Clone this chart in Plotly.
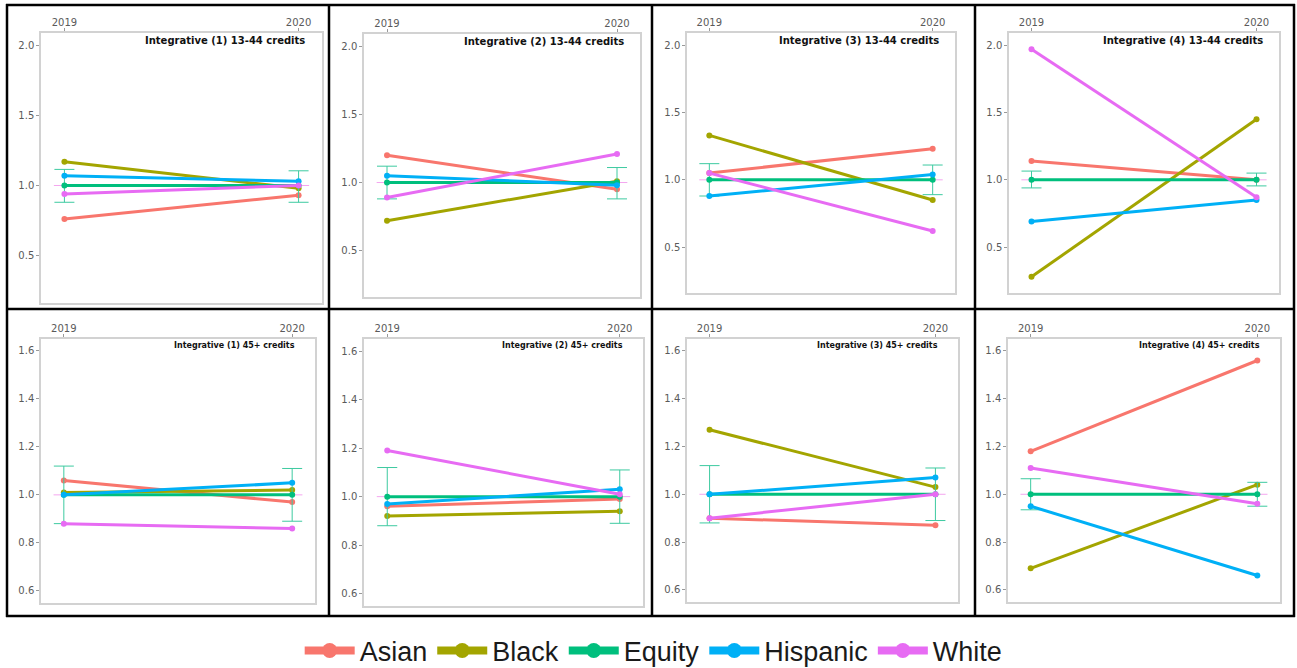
import plotly.graph_objects as go

W, H = 1297, 668

years = ["2019", "2020"]
groups = ["Asian", "Black", "Equity", "Hispanic", "White"]
colors = {"Asian": "#F8766D", "Black": "#A3A500", "Equity": "#00BF7D",
          "Hispanic": "#00B0F6", "White": "#E76BF3"}

titles = ["Integrative (1) 13-44 credits", "Integrative (2) 13-44 credits",
          "Integrative (3) 13-44 credits", "Integrative (4) 13-44 credits",
          "Integrative (1) 45+ credits", "Integrative (2) 45+ credits",
          "Integrative (3) 45+ credits", "Integrative (4) 45+ credits"]

asian    = [[0.76, 0.93], [1.20, 0.95], [1.05, 1.23], [1.14, 1.00],
            [1.06, 0.97], [0.96, 0.99], [0.90, 0.87], [1.18, 1.56]]
black    = [[1.17, 0.98], [0.72, 1.01], [1.33, 0.85], [0.28, 1.45],
            [1.01, 1.02], [0.92, 0.94], [1.27, 1.03], [0.69, 1.04]]
equity   = [[1.00, 1.00]] * 8
hispanic = [[1.07, 1.03], [1.05, 0.98], [0.88, 1.04], [0.69, 0.85],
            [1.00, 1.05], [0.97, 1.03], [1.00, 1.07], [0.95, 0.66]]
white    = [[0.94, 1.00], [0.89, 1.21], [1.05, 0.62], [1.97, 0.87],
            [0.88, 0.86], [1.19, 1.01], [0.90, 1.00], [1.11, 0.96]]
equity_lo = [[0.88, 0.88], [0.88, 0.88], [0.88, 0.89], [0.94, 0.955],
             [0.88, 0.89], [0.88, 0.89], [0.88, 0.89], [0.935, 0.95]]
equity_hi = [[1.115, 1.105], [1.12, 1.11], [1.12, 1.11], [1.065, 1.05],
             [1.12, 1.11], [1.12, 1.11], [1.12, 1.11], [1.065, 1.05]]

yticks_top = [0.5, 1.0, 1.5, 2.0]
yticks_bot = [0.6, 0.8, 1.0, 1.2, 1.4, 1.6]

series = {"Asian": asian, "Black": black, "Equity": equity,
          "Hispanic": hispanic, "White": white}

# frames in pixels: left, right, top, bottom
frames = [(41, 322, 33, 303), (364, 640, 34, 297), (687, 955, 33, 293), (1009, 1279, 33, 293),
          (41, 315, 339, 603), (364, 643, 339, 606), (687, 958, 339, 602), (1008, 1280, 339, 602)]

fig = go.Figure()
xpos = [0, 1]

for i in range(8):
    n = i + 1
    xa = "x" if n == 1 else f"x{n}"
    ya = "y" if n == 1 else f"y{n}"
    for g in groups:
        vals = series[g][i]
        kw = {}
        if g == "Equity":
            kw["error_y"] = dict(type="data", symmetric=False,
                                 array=[h - v for h, v in zip(equity_hi[i], vals)],
                                 arrayminus=[v - l for l, v in zip(equity_lo[i], vals)],
                                 color="#3dcaa0", thickness=1, width=10)
        fig.add_trace(go.Scatter(x=xpos, y=vals, mode="lines+markers",
                                 line=dict(color=colors[g], width=3),
                                 marker=dict(color=colors[g], size=6),
                                 showlegend=False, xaxis=xa, yaxis=ya,
                                 hoverinfo="skip", **kw))
    l, r, t, b = frames[i]
    top_row = i < 4
    axx = dict(domain=[l / W, r / W], range=[-0.1, 1.1], tickvals=xpos, ticktext=years,
               side="top", ticks="outside", ticklen=3, tickcolor="#999",
               ticklabelstandoff=-2,
               showline=True, mirror=True, linecolor="#d2d2d2", linewidth=1.5,
               showgrid=False, zeroline=False, anchor=ya,
               tickfont=dict(family="DejaVu Sans", size=10, color="#5a5a5a"))
    axy = dict(domain=[1 - b / H, 1 - t / H],
               range=[0.16, 2.09] if top_row else [0.549, 1.65],
               tickvals=yticks_top if top_row else yticks_bot,
               ticktext=[f"{v:.1f}" for v in (yticks_top if top_row else yticks_bot)],
               ticks="outside", ticklen=3, tickcolor="#999",
               showline=True, mirror=True, linecolor="#d2d2d2", linewidth=1.5,
               showgrid=False, zeroline=False, anchor=xa,
               tickfont=dict(family="DejaVu Sans", size=10, color="#5a5a5a"))
    fig.layout["xaxis" if n == 1 else f"xaxis{n}"] = axx
    fig.layout["yaxis" if n == 1 else f"yaxis{n}"] = axy
    # reference line at 1
    fig.add_shape(type="line", xref=xa, yref=ya, x0=-0.045, x1=1.045, y0=1, y1=1,
                  line=dict(color="#f4a6ef", width=1), layer="below")
    fh = b - t
    fig.add_annotation(text=f"<b>{titles[i]}</b>", xref=f"{xa} domain", yref=f"{ya} domain",
                       x=0.948 if top_row else 0.935,
                       y=1 - (7 if top_row else 6) / fh,
                       xanchor="right", yanchor="middle", showarrow=False,
                       font=dict(family="DejaVu Sans", size=10 if top_row else 8, color="#111"))

# legend entries
for g in groups:
    fig.add_trace(go.Scatter(x=[None], y=[None], mode="lines+markers", name=g,
                             line=dict(color=colors[g], width=8),
                             marker=dict(color=colors[g], size=15),
                             showlegend=True, hoverinfo="skip"))

# table grid lines
vlines = [7, 329, 652, 975, 1294]
hlines = [5, 309, 616]
for xv in vlines:
    fig.add_shape(type="line", xref="paper", yref="paper", x0=xv / W, x1=xv / W,
                  y0=1 - 4 / H, y1=1 - 617 / H, line=dict(color="black", width=2.5))
for yv in hlines:
    fig.add_shape(type="line", xref="paper", yref="paper", x0=6 / W, x1=1295 / W,
                  y0=1 - yv / H, y1=1 - yv / H, line=dict(color="black", width=2.5))

fig.update_layout(
    width=W, height=H, margin=dict(l=0, r=0, t=0, b=0, autoexpand=False),
    paper_bgcolor="white", plot_bgcolor="white",
    legend=dict(orientation="h", x=0.504, xanchor="center", y=1 - 651 / H, yanchor="middle",
                font=dict(family="Liberation Sans", size=27, color="#1a1a1a"),
                itemwidth=50, bgcolor="rgba(0,0,0,0)"),
)

fig.write_html("out.html", config={"displayModeBar": False},
               post_script="document.body.style.margin='0';document.body.style.overflow='hidden';")
